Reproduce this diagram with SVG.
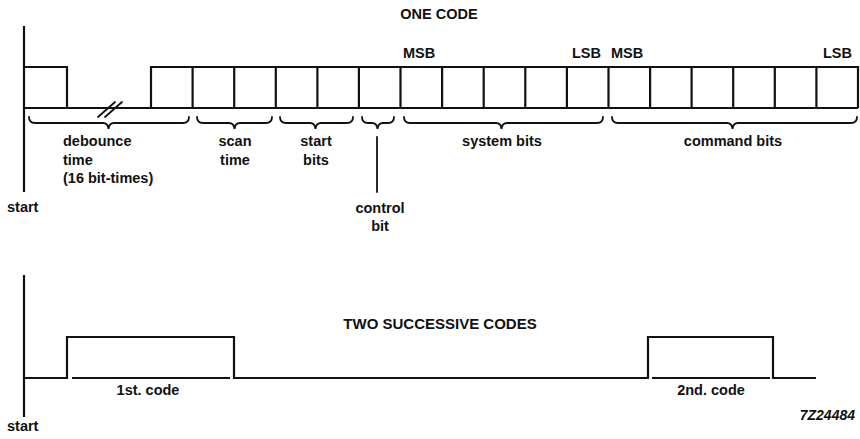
<svg xmlns="http://www.w3.org/2000/svg" width="860" height="439" viewBox="0 0 860 439">
<style>
.w{fill:none;stroke:#111;stroke-width:2.2;stroke-linejoin:miter}
.b{fill:none;stroke:#111;stroke-width:1.8;stroke-linecap:round}
.t{font-family:"Liberation Sans",Arial,sans-serif;font-weight:bold;font-size:14.5px;fill:#111}
.m{text-anchor:middle}
</style>
<rect width="860" height="439" fill="#fff"/>
<g id="one-code">
  <text class="t m" x="439" y="19">ONE CODE</text>
  <path class="w" d="M24,26 V192"/>
  <path class="w" d="M24,67 H67 V108 M24,108 H858 M151,108 V67 H858 V108"/>
  <path class="w" d="M192.6,67V108M234.2,67V108M275.8,67V108M317.4,67V108M358.9,67V108M400.5,67V108M442.1,67V108M483.7,67V108M525.3,67V108M566.9,67V108M608.5,67V108M650.1,67V108M691.6,67V108M733.2,67V108M774.8,67V108M816.4,67V108"/>
  <path class="b" d="M98,117 L115,102 M105,117 L122,102"/>
  <text class="t" x="403" y="58">MSB</text>
  <text class="t" x="572" y="58">LSB</text>
  <text class="t" x="611" y="58">MSB</text>
  <text class="t" x="823" y="58">LSB</text>
</g>
<g id="braces">
  <path class="b" d="M29,117 Q29,123 35,123 H103 Q108,123 108.5,129 Q109,123 114,123 H183 Q189,123 189,117"/>
  <path class="b" d="M197,117 Q197,123 203,123 H229 Q234,123 234.5,129 Q235,123 240,123 H266 Q272,123 272,117"/>
  <path class="b" d="M280,117 Q280,123 286,123 H310 Q315,123 315.5,129 Q316,123 321,123 H347 Q353,123 353,117"/>
  <path class="b" d="M362,117 Q362,123 368,123 H372 Q377,123 377.5,129 Q378,123 383,123 H388 Q394,123 394,117"/>
  <path class="b" d="M404,117 Q404,123 410,123 H496 Q501,123 501.5,129 Q502,123 507,123 H597 Q603,123 603,117"/>
  <path class="b" d="M612,117 Q612,123 618,123 H727 Q732,123 732.5,129 Q733,123 738,123 H851 Q857,123 857,117"/>
  <path class="b" d="M377,137 V192"/>
</g>
<g id="labels">
  <text class="t" x="63" y="146">debounce</text>
  <text class="t" x="63" y="165">time</text>
  <text class="t" x="63" y="183">(16 bit-times)</text>
  <text class="t m" x="235" y="146">scan</text>
  <text class="t m" x="235" y="165">time</text>
  <text class="t m" x="316" y="146">start</text>
  <text class="t m" x="316" y="165">bits</text>
  <text class="t m" x="502" y="146">system bits</text>
  <text class="t m" x="733" y="146">command bits</text>
  <text class="t m" x="380" y="213">control</text>
  <text class="t m" x="380" y="231">bit</text>
  <text class="t" x="7" y="212">start</text>
</g>
<g id="two-codes">
  <text class="t m" x="440" y="329" style="font-size:15px">TWO SUCCESSIVE CODES</text>
  <path class="w" d="M24,275 V417"/>
  <path class="w" d="M24,378 H67 V337 H234 V378 H648 V337 H773 V378 H816"/>
  <path class="w" d="M72,378 H230 M652,378 H770"/>
  <text class="t m" x="148" y="395">1st. code</text>
  <text class="t m" x="711" y="395">2nd. code</text>
  <text class="t" x="7" y="431">start</text>
  <text class="t" x="855" y="420" style="text-anchor:end;font-style:italic;font-size:14px">7Z24484</text>
</g>
</svg>
